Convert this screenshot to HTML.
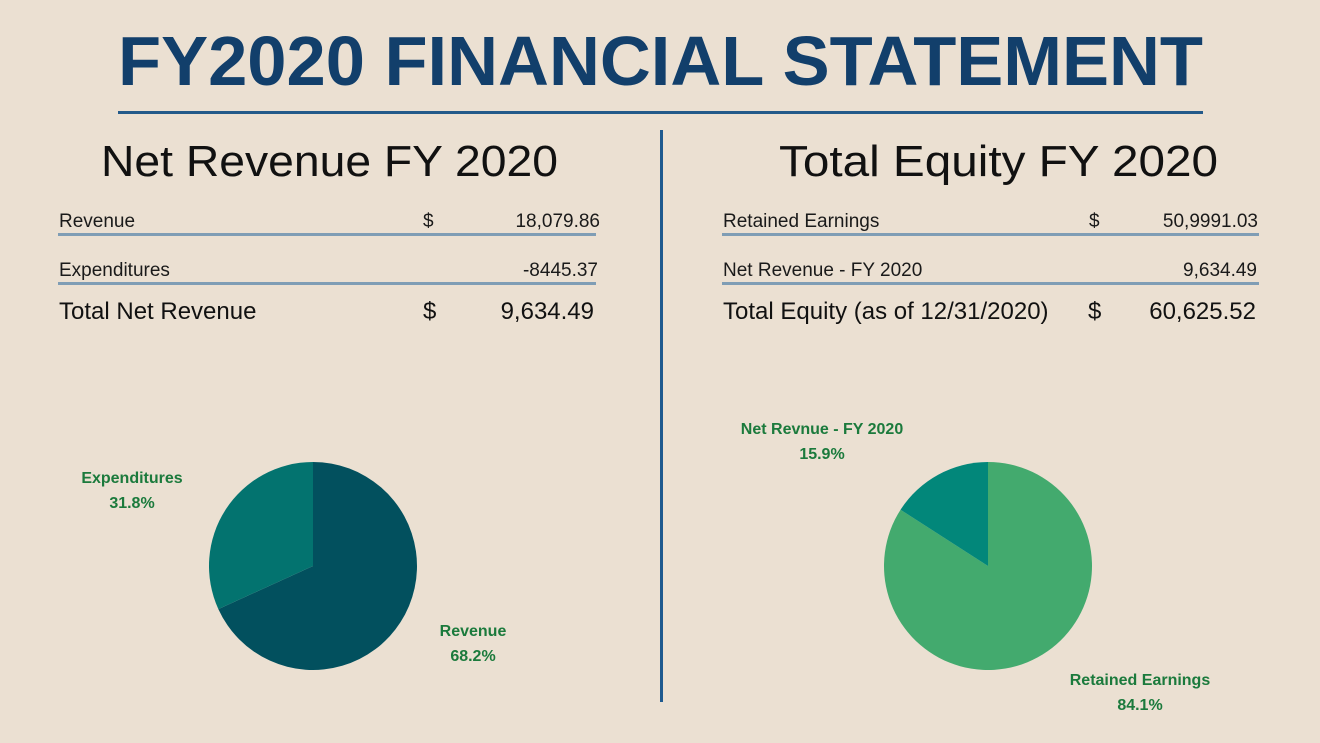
<!DOCTYPE html>
<html><head><meta charset="utf-8"><style>
html,body{margin:0;padding:0;background:#ebe0d2;}
svg{display:block;}
text{font-family:"Liberation Sans",sans-serif;}
.row{font-size:19px;fill:#1a1a1a;}
.tot{font-size:24px;fill:#111;}
.lbl{font-size:16px;font-weight:bold;fill:#1b7a3c;}
</style></head><body>
<svg id="chart" width="1320" height="743" viewBox="0 0 1320 743">
<rect width="1320" height="743" fill="#ebe0d2"/>
<text x="118" y="85" font-size="70" font-weight="bold" fill="#123f6b" textLength="1085" lengthAdjust="spacingAndGlyphs">FY2020 FINANCIAL STATEMENT</text>
<rect x="118" y="111" width="1085" height="3" fill="#235a8a"/>
<rect x="660" y="130" width="3" height="572" fill="#1f5a8f"/>

<g>
<text x="101" y="176" font-size="44" fill="#111" textLength="457" lengthAdjust="spacingAndGlyphs">Net Revenue FY 2020</text>
<text class="row" x="59" y="227">Revenue</text>
<text class="row" x="423" y="227">$</text>
<text class="row" x="600" y="227" text-anchor="end">18,079.86</text>
<rect x="58" y="233" width="538" height="3" fill="#7f9db5"/>
<text class="row" x="59" y="276">Expenditures</text>
<text class="row" x="598" y="276" text-anchor="end">-8445.37</text>
<rect x="58" y="282" width="538" height="3" fill="#7f9db5"/>
<text class="tot" x="59" y="319">Total Net Revenue</text>
<text class="tot" x="423" y="319">$</text>
<text class="tot" x="594" y="319" text-anchor="end">9,634.49</text>
</g>

<g>
<text x="779" y="176" font-size="44" fill="#111" textLength="439" lengthAdjust="spacingAndGlyphs">Total Equity FY 2020</text>
<text class="row" x="723" y="227">Retained Earnings</text>
<text class="row" x="1089" y="227">$</text>
<text class="row" x="1258" y="227" text-anchor="end">50,9991.03</text>
<rect x="722" y="233" width="537" height="3" fill="#7f9db5"/>
<text class="row" x="723" y="276">Net Revenue - FY 2020</text>
<text class="row" x="1257" y="276" text-anchor="end">9,634.49</text>
<rect x="722" y="282" width="537" height="3" fill="#7f9db5"/>
<text class="tot" x="723" y="319">Total Equity (as of 12/31/2020)</text>
<text class="tot" x="1088" y="319">$</text>
<text class="tot" x="1256" y="319" text-anchor="end">60,625.52</text>
</g>

<g id="pies"></g>
</svg>
<script>
const leftCategories = ["Revenue", "Expenditures"];
const leftValues = [68.2, 31.8];
const leftColors = ["#02505e", "#03736f"];
const rightCategories = ["Retained Earnings", "Net Revnue - FY 2020"];
const rightValues = [84.1, 15.9];
const rightColors = ["#43aa6e", "#02877a"];

const NS = "http://www.w3.org/2000/svg";
const pies = document.getElementById("pies");
function pt(cx, cy, r, frac) {
  const a = frac * 2 * Math.PI - Math.PI / 2;
  return [cx + r * Math.cos(a), cy + r * Math.sin(a)];
}
function drawPie(cx, cy, r, cats, vals, colors, prefix) {
  const total = vals.reduce((a, b) => a + b, 0);
  let acc = 0;
  vals.forEach((v, i) => {
    const f0 = acc / total, f1 = (acc + v) / total;
    acc += v;
    const p0 = pt(cx, cy, r, f0), p1 = pt(cx, cy, r, f1);
    const large = (f1 - f0) > 0.5 ? 1 : 0;
    const path = document.createElementNS(NS, "path");
    path.setAttribute("d", `M${cx},${cy} L${p0[0]},${p0[1]} A${r},${r} 0 ${large} 1 ${p1[0]},${p1[1]} Z`);
    path.setAttribute("fill", colors[i]);
    
    
    pies.appendChild(path);
  });
}
function label(x, y, name, pct, key) {
  [[name, y], [pct.toFixed(1) + "%", y + 25]].forEach((d, j) => {
    const t = document.createElementNS(NS, "text");
    t.setAttribute("x", x); t.setAttribute("y", d[1]);
    t.setAttribute("text-anchor", "middle");
    t.setAttribute("class", "lbl");
    t.textContent = d[0];
    
    
    pies.appendChild(t);
  });
}
drawPie(313, 566, 104, leftCategories, leftValues, leftColors, "net-revenue-pie");
drawPie(988, 566, 104, rightCategories, rightValues, rightColors, "total-equity-pie");
label(132, 483, leftCategories[1], leftValues[1], "expenditures-pie");
label(473, 636, leftCategories[0], leftValues[0], "revenue-pie");
label(822, 434, rightCategories[1], rightValues[1], "net-revenue-fy-pie");
label(1140, 685, rightCategories[0], rightValues[0], "retained-earnings-pie");
</script>
</body></html>
